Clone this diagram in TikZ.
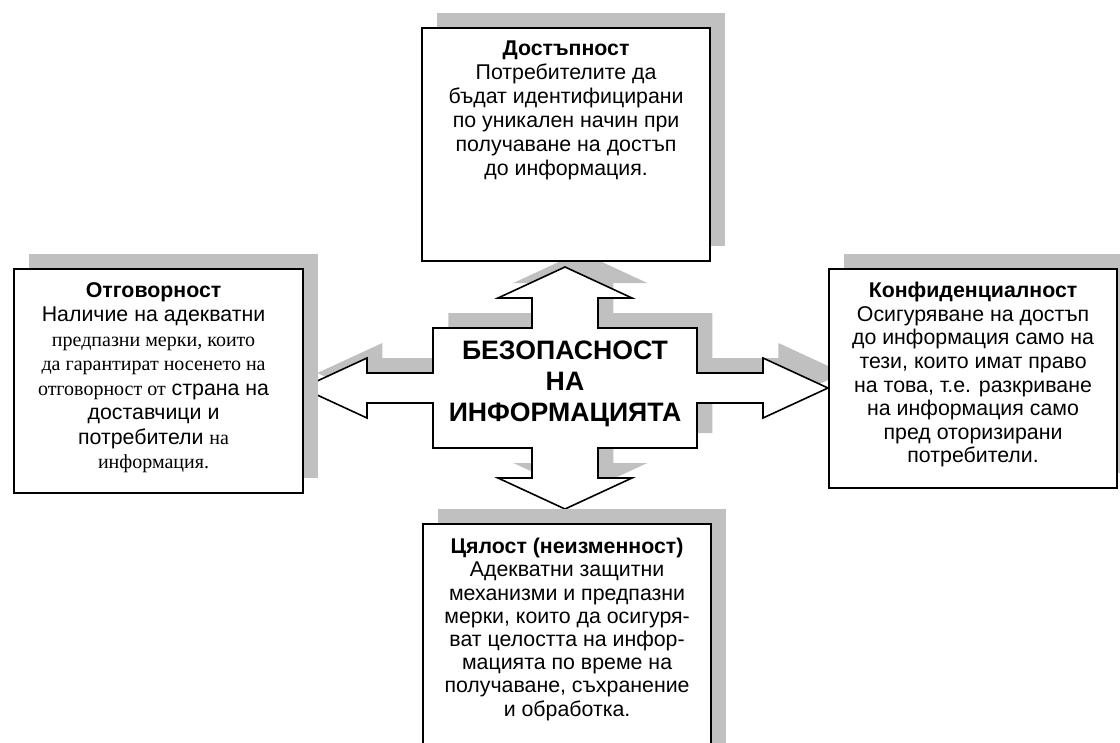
\documentclass[tikz,border=0pt]{standalone}
\usepackage{fontspec}
\setmainfont{Liberation Sans}
\newfontfamily\timesfont{Liberation Serif}
\usetikzlibrary{calc,shadows}
\definecolor{shadowgray}{HTML}{C0C0C0}
\newcommand{\serifpart}[1]{{\timesfont\fontsize{15pt}{18.4pt}\selectfont #1}}
\tikzset{
	boxshadow/.style={drop shadow={shadow xshift=11.5pt, shadow yshift=11.25pt, opacity=1, fill=shadowgray}},
	infobox/.style={draw, line width=1.6pt, fill=white, boxshadow, anchor=north west, inner sep=0pt},
	infotext/.style={align=center, anchor=north, inner sep=0pt, font=\fontsize{16pt}{17.7pt}\selectfont},
	bigarrow/.style={draw, line width=1.2pt, fill=white, boxshadow},
}

\begin{document}
\begin{tikzpicture}[x=0.75pt, y=-0.75pt]
		%%%%% START %%%%%
		\useasboundingbox (0, 0) rectangle (1120, 742);
		\clip (0, 0) rectangle (1120, 742);
		
		% four-headed arrow
		\coordinate (mid) at (565, 388);
		\draw[bigarrow, shift={(mid)}] (0, -121) -- (67, -90) -- (33, -90) -- (33, -60) -- (132, -60) -- (132, -15)
			-- (198, -15) -- (198, -30) -- (263, 0) -- (198, 30) -- (198, 15) -- (132, 15) -- (132, 60)
			-- (33, 60) -- (33, 90) -- (67, 90) -- (0, 121) -- (-67, 90) -- (-33, 90) -- (-33, 60)
			-- (-132, 60) -- (-132, 15) -- (-198, 15) -- (-198, 30) -- (-263, 0) -- (-198, -30)
			-- (-198, -15) -- (-132, -15) -- (-132, -60) -- (-33, -60) -- (-33, -90) -- (-67, -90) -- cycle;
		\node[align=center, inner sep=0pt, font=\fontsize{20pt}{23.5pt}\selectfont\bfseries] (hub) at ($(mid)+(0, -4)$)
			{БЕЗОПАСНОСТ\\НА\\ИНФОРМАЦИЯТА};
		
		% boxes
		\node[infobox, minimum width=216pt, minimum height=174.75pt] (avail) at (421, 27) {};
		\node[infobox, minimum width=216.75pt, minimum height=168pt] (account) at (13, 268) {};
		\node[infobox, minimum width=216pt, minimum height=164.25pt] (confid) at (828, 268) {};
		\node[infobox, minimum width=216pt, minimum height=180pt] (integr) at (422, 523) {};
		
		\node[infotext, font=\fontsize{16pt}{18pt}\selectfont] (availtxt) at ($(avail.north)+(0, 14)$)
			{\textbf{Достъпност}\\Потребителите да\\бъдат идентифицирани\\по уникален начин при\\получаване на достъп\\до информация.};
		\node[infotext, font=\fontsize{16pt}{18.4pt}\selectfont] (accounttxt) at ($(account.north)+(-5, 14)$)
			{\textbf{Отговорност}\\Наличие на адекватни\\\serifpart{предпазни мерки, които}\\\serifpart{да гарантират носенето на}\\\serifpart{отговорност от} страна на\\доставчици и\\потребители \serifpart{на}\\\serifpart{информация.}};
		\node[infotext] (confidtxt) at ($(confid.north)+(0, 14)$)
			{\textbf{Конфиденциалност}\\Осигуряване на достъп\\до информация само на\\тези, които имат право\\на това, т.е. разкриване\\на информация само\\пред оторизирани\\потребители.};
		\node[infotext, font=\fontsize{16pt}{17.4pt}\selectfont] (integrtxt) at ($(integr.north)+(0, 15)$)
			{\textbf{Цялост (неизменност)}\\Адекватни защитни\\механизми и предпазни\\мерки, които да осигуря-\\ват целостта на инфор-\\мацията по време на\\получаване, съхранение\\и обработка.};
		
		%%%%% END %%%%%
\end{tikzpicture}
\end{document}
